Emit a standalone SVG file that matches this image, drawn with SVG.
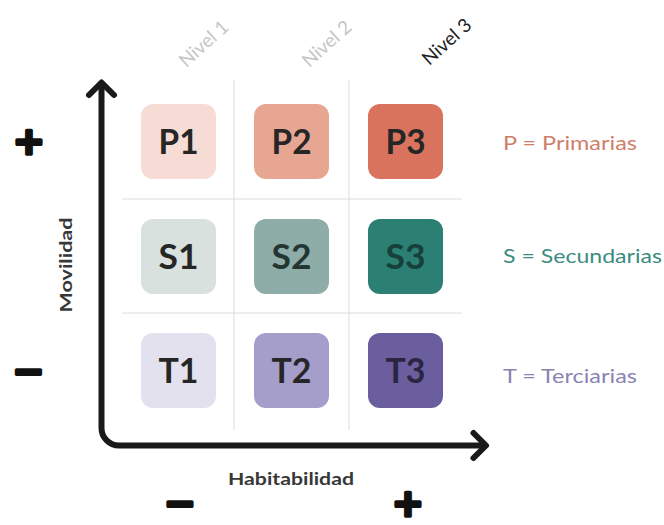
<svg xmlns="http://www.w3.org/2000/svg" width="664" height="525" viewBox="0 0 664 525">
  <style>
    .grid { stroke: #dcdcdc; stroke-width: 1; fill: none; }
    .axis { stroke: #1a1a1a; stroke-width: 6; fill: none; }
    .box { stroke: none; }
    .lbl { font-family: Lato, "Open Sans", "DejaVu Sans", sans-serif; font-weight: bold; font-size: 34px; text-anchor: middle; fill: #262626; }
    .lvl { font-family: Lato, "Open Sans", "DejaVu Sans", sans-serif; font-size: 19px; text-anchor: middle; }
    .leg { font-family: Lato, "Open Sans", "DejaVu Sans", sans-serif; font-size: 19px; }
    .ax { font-family: Lato, "Open Sans", "DejaVu Sans", sans-serif; font-weight: bold; font-size: 17px; fill: #383838; text-anchor: middle; }
    .sign { font-family: "DejaVu Sans", sans-serif; font-weight: bold; font-size: 38px; text-anchor: middle; fill: #111; stroke: #111; stroke-width: 3.5; stroke-linejoin: round; }
  </style>
  <defs>
    <marker id="chev" markerUnits="userSpaceOnUse" markerWidth="40" markerHeight="40" refX="0" refY="0" orient="auto-start-reverse" overflow="visible">
      <path d="M-12.5,-12.5 L0,0 L-12.5,12.5" fill="none" stroke="#1a1a1a" stroke-width="6" stroke-linecap="round" stroke-linejoin="round"/>
    </marker>
  </defs>
  <rect width="664" height="525" fill="#ffffff"/>

  <g id="grid">
    <line class="grid" x1="234" y1="80" x2="234" y2="430"/>
    <line class="grid" x1="349" y1="80" x2="349" y2="430"/>
    <line class="grid" x1="122" y1="199" x2="462" y2="199"/>
    <line class="grid" x1="122" y1="313" x2="462" y2="313"/>
  </g>

  <g id="connectors">
    <path class="axis" d="M101.5,82.5 V428 A17.5,17.5 0 0 0 119,445.5 H486" marker-start="url(#chev)" marker-end="url(#chev)"/>
  </g>

  <g id="P1"><rect class="box" x="141" y="104" width="75" height="75" rx="12" fill="#f6dcd4"/><text class="lbl" x="178.5" y="154" textLength="40" lengthAdjust="spacingAndGlyphs">P1</text></g>
  <g id="P2"><rect class="box" x="254" y="104" width="75" height="75" rx="12" fill="#e6a692"/><text class="lbl" x="291.5" y="154" textLength="40" lengthAdjust="spacingAndGlyphs">P2</text></g>
  <g id="P3"><rect class="box" x="368" y="104" width="75" height="75" rx="12" fill="#d9735d"/><text class="lbl" x="405.5" y="154" textLength="40" lengthAdjust="spacingAndGlyphs">P3</text></g>

  <g id="S1"><rect class="box" x="141" y="219" width="75" height="75" rx="12" fill="#d9e1df"/><text class="lbl" x="178.5" y="269" textLength="40" lengthAdjust="spacingAndGlyphs">S1</text></g>
  <g id="S2"><rect class="box" x="254" y="219" width="75" height="75" rx="12" fill="#8eaca8"/><text class="lbl" x="291.5" y="269" textLength="40" lengthAdjust="spacingAndGlyphs" style="fill:#243633">S2</text></g>
  <g id="S3"><rect class="box" x="368" y="219" width="75" height="75" rx="12" fill="#2b7f73"/><text class="lbl" x="405.5" y="269" textLength="40" lengthAdjust="spacingAndGlyphs" style="fill:#17403a">S3</text></g>

  <g id="T1"><rect class="box" x="141" y="333" width="75" height="75" rx="12" fill="#e3e1ee"/><text class="lbl" x="178.5" y="383" textLength="40" lengthAdjust="spacingAndGlyphs">T1</text></g>
  <g id="T2"><rect class="box" x="254" y="333" width="75" height="75" rx="12" fill="#a59dca"/><text class="lbl" x="291.5" y="383" textLength="40" lengthAdjust="spacingAndGlyphs">T2</text></g>
  <g id="T3"><rect class="box" x="368" y="333" width="75" height="75" rx="12" fill="#6a5e9f"/><text class="lbl" x="405.5" y="383" textLength="40" lengthAdjust="spacingAndGlyphs" style="fill:#2a2540">T3</text></g>

  <g id="levels">
    <text class="lvl" fill="#c6c6c6" transform="translate(204,44) rotate(-42)" dy="6">Nivel 1</text>
    <text class="lvl" fill="#c6c6c6" transform="translate(327,44) rotate(-42)" dy="6">Nivel 2</text>
    <text class="lvl" fill="#222222" transform="translate(447,42) rotate(-42)" dy="6">Nivel 3</text>
  </g>

  <g id="legend">
    <text class="leg" x="503" y="150" fill="#cf7e6c" textLength="134" lengthAdjust="spacingAndGlyphs">P = Primarias</text>
    <text class="leg" x="503" y="263" fill="#3b8c7e" textLength="159" lengthAdjust="spacingAndGlyphs">S = Secundarias</text>
    <text class="leg" x="503" y="383" fill="#8984b2" textLength="134" lengthAdjust="spacingAndGlyphs">T = Terciarias</text>
  </g>

  <g id="axis-labels">
    <text class="ax" x="291" y="485" textLength="126" lengthAdjust="spacingAndGlyphs">Habitabilidad</text>
    <text class="ax" transform="translate(72,265) rotate(-90)" textLength="95" lengthAdjust="spacingAndGlyphs">Movilidad</text>
    <text class="sign" x="29" y="154">+</text>
    <text class="sign" x="28.5" y="383.5">−</text>
    <text class="sign" x="180" y="515.5">−</text>
    <text class="sign" x="408" y="515.5">+</text>
  </g>
</svg>
